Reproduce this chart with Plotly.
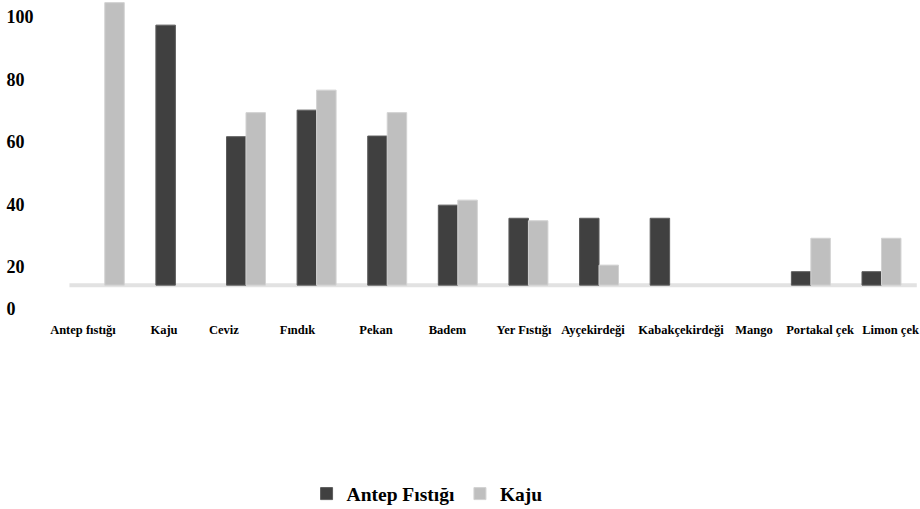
import plotly.graph_objects as go

# Categories and series values (percent)
categories = ["Antep fıstığı", "Kaju", "Ceviz", "Fındık", "Pekan", "Badem",
              "Yer Fıstığı", "Ayçekirdeği", "Kabakçekirdeği", "Mango",
              "Portakal çek", "Limon çek"]
antep_fistigi = [None, 97.3, 61.6, 70.1, 61.8, 39.7, 35.5, 35.5, 35.5, None, 18.4, 18.4]
kaju = [104.5, None, 69.3, 76.5, 69.3, 41.3, 34.7, 20.5, None, None, 29.1, 29.1]

tick_values = [6.7, 20, 40, 60, 80, 100]
tick_labels = ["0", "20", "40", "60", "80", "100"]

BASE = 14.1  # level of the floor line the bars stand on

SERIF = "Liberation Serif, Times New Roman, serif"

# horizontal nudge of each category caption, in category widths
label_nudge = [-0.309, -0.161, -0.312, -0.271, -0.159, -0.146,
               -0.062, -0.085, 0.161, 0.195, 0.130, 0.129]


def lengths(values):
    return [None if v is None else v - BASE for v in values]


fig = go.Figure()
fig.add_trace(go.Bar(
    name="Antep Fıstığı", x=categories, y=lengths(antep_fistigi), base=BASE,
    marker=dict(color="#404040", line=dict(color="#5c5c5c", width=1)),
))
fig.add_trace(go.Bar(
    name="Kaju", x=categories, y=lengths(kaju), base=BASE,
    marker=dict(color="#bfbfbf", line=dict(color="#d2d2d2", width=1)),
))

# floor line
fig.add_shape(type="line", xref="paper", yref="y", x0=0.0755, x1=0.9965,
              y0=BASE, y1=BASE, line=dict(color="#e2e2e2", width=4), layer="below")

# invisible trace to activate the caption axis
fig.add_trace(go.Scatter(x=[0], y=[50], xaxis="x2", mode="markers",
                         marker=dict(opacity=0), showlegend=False, hoverinfo="skip"))

fig.update_layout(
    width=920, height=509,
    margin=dict(l=0, r=0, t=0, b=194, autoexpand=False),
    paper_bgcolor="white", plot_bgcolor="white",
    barmode="group", bargap=0.448, bargroupgap=0,
    font=dict(family=SERIF, color="black", weight="bold"),
    showlegend=True,
    legend=dict(orientation="h", x=0.4642, xanchor="center", y=-0.568, yanchor="middle",
                font=dict(family=SERIF, size=19.5, color="black", weight="bold"),
                itemwidth=30, tracegroupgap=0),
    xaxis=dict(domain=[0.0755, 0.9965], range=[-0.5, 11.5], showticklabels=False,
               showgrid=False, zeroline=False, showline=False, ticks="",
               automargin=False),
    xaxis2=dict(overlaying="x", anchor="y", side="bottom", type="linear",
                range=[-0.5, 11.5],
                tickvals=[i + d for i, d in enumerate(label_nudge)],
                ticktext=categories, tickangle=0, showgrid=False, zeroline=False,
                showline=False, ticks="outside", ticklen=3, tickcolor="rgba(0,0,0,0)",
                automargin=False, ticklabeloverflow="allow",
                tickfont=dict(family=SERIF, size=12.5, color="black", weight="bold")),
    yaxis=dict(range=[4.54, 105.34], tickvals=tick_values, ticktext=tick_labels,
               side="right", anchor="free", position=0.006, ticklabelposition="outside",
               showgrid=False, zeroline=False, showline=False, ticks="",
               automargin=False,
               tickfont=dict(family=SERIF, size=18, color="black", weight="bold")),
)

fig.write_html("out.html")
